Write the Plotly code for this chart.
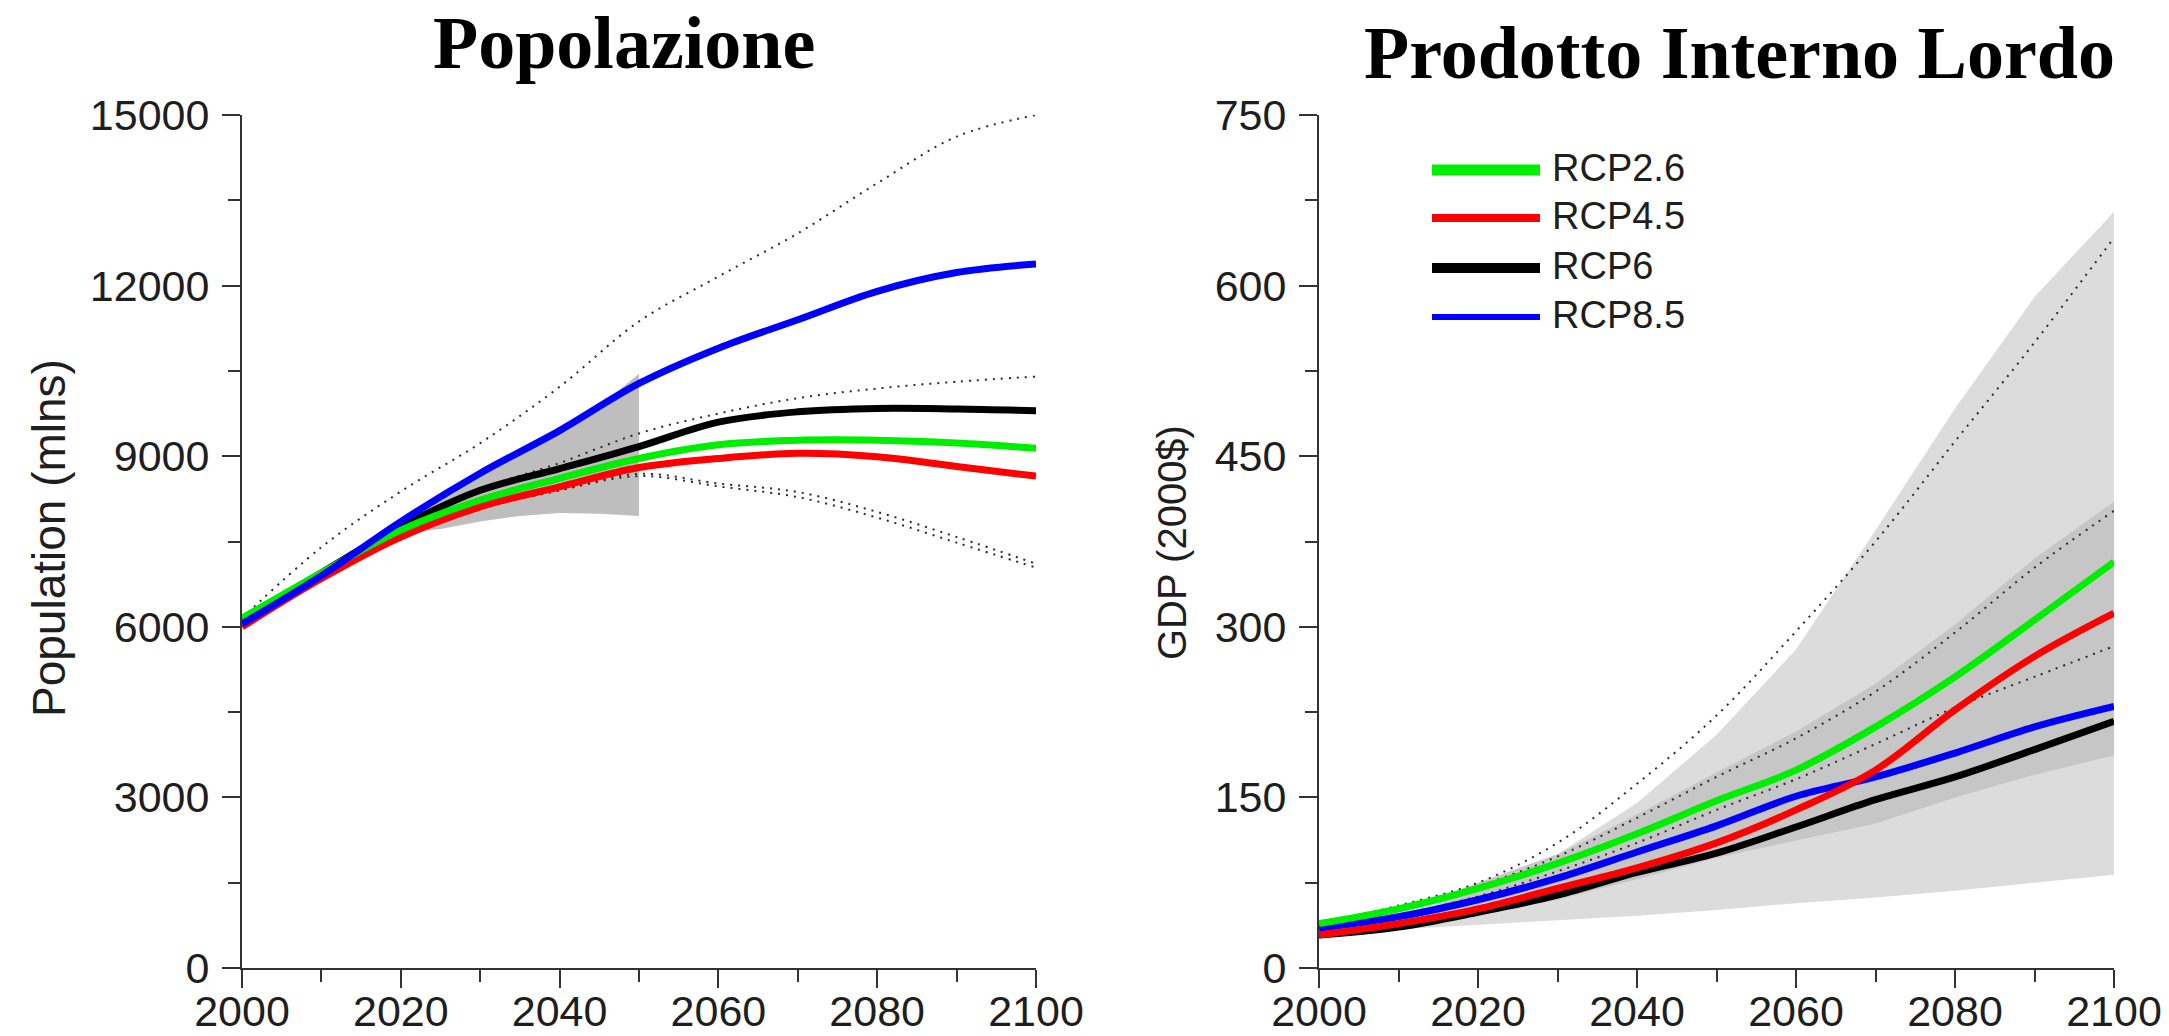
import plotly.graph_objects as go

W, H = 2169, 1036

# ---------------- data ----------------
years = [2000, 2010, 2020, 2030, 2040, 2050, 2060, 2070, 2080, 2090, 2100]

# Population (millions)
pop_rcp26 = [6150, 6950, 7700, 8230, 8610, 8960, 9200, 9280, 9280, 9230, 9140]
pop_rcp45 = [6000, 6850, 7580, 8110, 8460, 8800, 8960, 9050, 8990, 8820, 8650]
pop_rcp6 = [6100, 6950, 7760, 8400, 8780, 9170, 9600, 9780, 9840, 9830, 9800]
pop_rcp85 = [6050, 6900, 7850, 8700, 9450, 10280, 10900, 11400, 11900, 12230, 12380]
pop_dot_high = [6150, 7400, 8380, 9230, 10220, 11370, 12160, 12920, 13800, 14620, 15000]
pop_dot_mid = [6100, 6950, 7750, 8420, 8880, 9400, 9750, 10020, 10190, 10310, 10400]
pop_dot_low_a = [6050, 6850, 7560, 8080, 8400, 8690, 8520, 8370, 8020, 7580, 7110]
pop_dot_low_b = [6050, 6850, 7560, 8080, 8400, 8650, 8470, 8280, 7920, 7480, 7040]

pop_band_years = [2020, 2025, 2030, 2035, 2040, 2045, 2050]
pop_band_upper = [7850, 8300, 8720, 9100, 9480, 9880, 10450]
pop_band_lower = [7650, 7720, 7850, 7950, 8000, 7990, 7950]

# GDP (2000$)
gdp_rcp26 = [39, 52, 70, 92, 118, 147, 174, 212, 256, 306, 357]
gdp_rcp45 = [29, 39, 52, 70, 88, 110, 139, 174, 227, 274, 312]
gdp_rcp6 = [29, 36, 49, 64, 84, 101, 124, 148, 168, 192, 217]
gdp_rcp85 = [35, 45, 60, 79, 102, 125, 151, 168, 189, 212, 230]
gdp_dot_high = [39, 55, 75, 110, 162, 222, 296, 375, 463, 550, 642]
gdp_dot_mid_hi = [39, 53, 72, 98, 132, 168, 202, 243, 295, 352, 402]
gdp_dot_mid_lo = [35, 47, 63, 85, 110, 139, 166, 197, 229, 256, 283]

gdp_outer_upper = [40, 52, 70, 100, 145, 205, 280, 385, 492, 590, 665]
gdp_outer_lower = [30, 34, 38, 42, 46, 51, 57, 62, 68, 75, 82]

gdp_inner_years = [2015, 2020, 2030, 2040, 2050, 2060, 2070, 2080, 2090, 2100]
gdp_inner_upper = [62, 75, 100, 135, 172, 208, 250, 302, 360, 410]
gdp_inner_lower = [42, 47, 60, 78, 97, 112, 127, 150, 170, 187]

scenarios = ["RCP2.6", "RCP4.5", "RCP6", "RCP8.5"]
scenario_colors = {"RCP2.6": "#00ee00", "RCP4.5": "#ff0000", "RCP6": "#000000", "RCP8.5": "#0000ff"}
legend_widths = {"RCP2.6": 11, "RCP4.5": 8, "RCP6": 10, "RCP8.5": 6}

pop_ticks = [0, 3000, 6000, 9000, 12000, 15000]
pop_tick_labels = ["0", "3000", "6000", "9000", "12000", "15000"]
gdp_ticks = [0, 150, 300, 450, 600, 750]
gdp_tick_labels = ["0", "150", "300", "450", "600", "750"]
year_ticks = [2000, 2020, 2040, 2060, 2080, 2100]
year_tick_labels = ["2000", "2020", "2040", "2060", "2080", "2100"]

# ---------------- figure ----------------
fig = go.Figure()


def px_x(x):
    return x / W


def px_y(y):
    return 1 - y / H


def band(xs, upper, lower, color, xa, ya):
    fig.add_trace(go.Scatter(
        x=list(xs) + list(xs)[::-1], y=list(upper) + list(lower)[::-1],
        fill="toself", fillcolor=color, line=dict(width=0), mode="lines",
        hoverinfo="skip", showlegend=False, xaxis=xa, yaxis=ya))


def dotted(ys, xa, ya):
    fig.add_trace(go.Scatter(
        x=years, y=ys, mode="lines", line=dict(color="#2a2a2a", width=2, dash="2px,6px", shape="spline"),
        hoverinfo="skip", showlegend=False, xaxis=xa, yaxis=ya))


def solid(ys, name, xa, ya):
    fig.add_trace(go.Scatter(
        x=years, y=ys, mode="lines", name=name,
        line=dict(color=scenario_colors[name], width=7, shape="spline"),
        showlegend=False, xaxis=xa, yaxis=ya))


# Population panel
band(pop_band_years, pop_band_upper, pop_band_lower, "#bebebe", "x", "y")
for s in (pop_dot_high, pop_dot_mid, pop_dot_low_a, pop_dot_low_b):
    dotted(s, "x", "y")
solid(pop_rcp45, "RCP4.5", "x", "y")
solid(pop_rcp6, "RCP6", "x", "y")
solid(pop_rcp26, "RCP2.6", "x", "y")
solid(pop_rcp85, "RCP8.5", "x", "y")

# GDP panel
band(years, gdp_outer_upper, gdp_outer_lower, "#dcdcdc", "x2", "y2")
band(gdp_inner_years, gdp_inner_upper, gdp_inner_lower, "#c6c6c6", "x2", "y2")
for s in (gdp_dot_high, gdp_dot_mid_hi, gdp_dot_mid_lo):
    dotted(s, "x2", "y2")
solid(gdp_rcp6, "RCP6", "x2", "y2")
solid(gdp_rcp85, "RCP8.5", "x2", "y2")
solid(gdp_rcp45, "RCP4.5", "x2", "y2")
solid(gdp_rcp26, "RCP2.6", "x2", "y2")

tick_font = dict(family="Liberation Sans, Arial, sans-serif", size=43, color="#1e1e1e")
axis_common = dict(showgrid=False, zeroline=False, showline=True, linecolor="#333333", linewidth=2,
                   ticks="outside", ticklen=18, tickwidth=2, tickcolor="#333333", tickfont=tick_font,
                   automargin=False)

x_common = dict(axis_common, range=[2000, 2100], tickvals=year_ticks, ticktext=year_tick_labels,
                ticklabelstandoff=-14,
                minor=dict(dtick=10, tick0=2000, ticks="outside", ticklen=12, tickwidth=2, tickcolor="#333333"))

y_dom = [px_y(968), px_y(115)]
fig.update_layout(
    width=W, height=H, margin=dict(l=0, r=0, t=0, b=0, pad=0, autoexpand=False),
    paper_bgcolor="white", plot_bgcolor="white",
    xaxis=dict(x_common, domain=[px_x(242), px_x(1036)], anchor="y"),
    yaxis=dict(axis_common, domain=y_dom, range=[0, 15000], tickvals=pop_ticks, ticktext=pop_tick_labels,
               anchor="x", ticklabelstandoff=4,
               minor=dict(dtick=1500, tick0=0, ticks="outside", ticklen=12, tickwidth=2, tickcolor="#333333")),
    xaxis2=dict(x_common, domain=[px_x(1319), px_x(2114)], anchor="y2"),
    yaxis2=dict(axis_common, domain=y_dom, range=[0, 750], tickvals=gdp_ticks, ticktext=gdp_tick_labels,
                anchor="x2", ticklabelstandoff=4,
                minor=dict(dtick=75, tick0=0, ticks="outside", ticklen=12, tickwidth=2, tickcolor="#333333")),
)

title_font = dict(family="Liberation Serif, Times New Roman, serif", size=74, color="black", weight="bold")
fig.add_annotation(text="Popolazione", x=px_x(624), y=px_y(43), xref="paper", yref="paper",
                   xanchor="center", yanchor="middle", showarrow=False, font=title_font)
fig.add_annotation(text="Prodotto Interno Lordo", x=px_x(1739), y=px_y(53), xref="paper", yref="paper",
                   xanchor="center", yanchor="middle", showarrow=False, font=title_font)

fig.add_annotation(text="Population (mlns)", x=px_x(49), y=px_y(538), xref="paper", yref="paper",
                   xanchor="center", yanchor="middle", textangle=-90, showarrow=False,
                   font=dict(family="Liberation Sans, Arial, sans-serif", size=46, color="#1e1e1e"))
fig.add_annotation(text="GDP (2000$)", x=px_x(1172), y=px_y(543), xref="paper", yref="paper",
                   xanchor="center", yanchor="middle", textangle=-90, showarrow=False,
                   font=dict(family="Liberation Sans, Arial, sans-serif", size=40, color="#1e1e1e"))

# Legend drawn inside the GDP panel
legend_rows_y = [170, 218, 268, 317]
for name, ry in zip(scenarios, legend_rows_y):
    fig.add_shape(type="line", xref="paper", yref="paper",
                  x0=px_x(1432), x1=px_x(1540), y0=px_y(ry), y1=px_y(ry),
                  line=dict(color=scenario_colors[name], width=legend_widths[name]))
    fig.add_annotation(text=name, x=px_x(1550), y=px_y(ry - 2), xref="paper", yref="paper",
                       xanchor="left", yanchor="middle", showarrow=False,
                       font=dict(family="Liberation Sans, Arial, sans-serif", size=38, color="#1e1e1e"))

fig.write_html("out.html")
